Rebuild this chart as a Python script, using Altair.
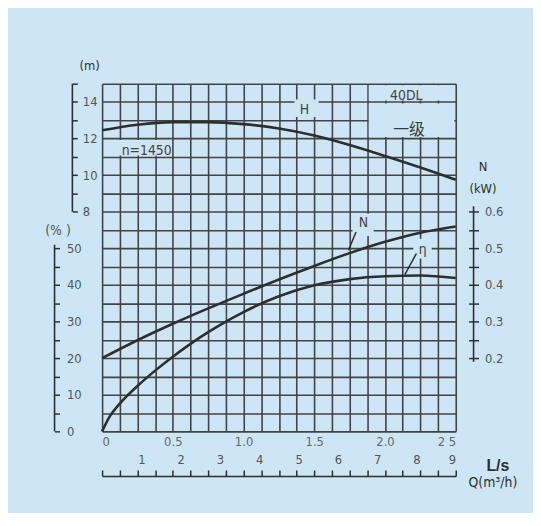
import altair as alt
import pandas as pd

# ---------------- data ----------------
# flow in L/s
Q_LS = [0, 0.25, 0.5, 0.75, 1.0, 1.25, 1.5, 1.75, 2.0, 2.25, 2.5]
HEAD_M = [12.45, 12.76, 12.9, 12.9, 12.79, 12.55, 12.17, 11.65, 11.05, 10.42, 9.75]
POWER_KW = [0.20, 0.249, 0.294, 0.336, 0.376, 0.415, 0.452, 0.487, 0.518, 0.543, 0.56]
EFF_Q = [0, 0.05, 0.125, 0.25, 0.375, 0.5, 0.625, 0.75, 0.875, 1.0, 1.25, 1.5, 1.75, 2.0, 2.25, 2.5]
EFF_PCT = [0, 3.8, 7.6, 12.4, 16.6, 20.4, 23.9, 27.1, 30.0, 32.6, 36.9, 39.9, 41.6, 42.4, 42.6, 41.9]

# axis ticks / labels
GRID_LS = [i * 0.125 for i in range(21)]
GRID_EFF = list(range(0, 100, 5))
EFF_TICKS = list(range(0, 55, 5))
HEAD_TICKS = [8, 9, 10, 11, 12, 13, 14, 15]
KW_TICKS = [0.2, 0.25, 0.3, 0.35, 0.4, 0.45, 0.5, 0.55, 0.6]
M3H_LABELS = [1, 2, 3, 4, 5, 6, 7, 8, 9]

# annotations
LABEL_TEXT = ["H", "40DL", "n=1450", "N", "η"]
LABEL_Q = [1.43, 2.15, 0.315, 1.847, 2.266]
LABEL_EFF = [87.9, 91.6, 76.6, 56.9, 49.6]
CN_TEXT = ["一级"]
CN_Q = [2.17]
CN_EFF = [82.2]

LEADER_Q1 = [1.795, 2.222]
LEADER_E1 = [54.5, 48.6]
LEADER_Q2 = [1.742, 2.14]
LEADER_E2 = [49.5, 42.8]

# areas where the grid is interrupted around the labels
MASK_Q1 = [1.36, 0.015, 1.885, 1.885, 1.77, 2.2]
MASK_Q2 = [1.53, 0.49, 2.49, 2.49, 1.92, 2.33]
MASK_E1 = [85.9, 75.4, 80.4, 90.4, 53.4, 47.2]
MASK_E2 = [90.7, 79.6, 89.6, 94.6, 59.5, 52.6]

# ---------------- styling ----------------
BG = "#cde6f6"
INK = "#2e2e2e"
GRIDC = "#434343"
LAB = "#555555"
FONT = "Liberation Sans Narrow, DejaVu Sans Condensed, Arial Narrow, sans-serif"
W, H = 357, 351

ls_scale = alt.Scale(domain=[0, 2.5], nice=False, zero=False)
m3_scale = alt.Scale(domain=[0, 9], nice=False, zero=False)
eff_scale = alt.Scale(domain=[0, 95], nice=False, zero=False)
head_scale = alt.Scale(domain=[-4, 15], nice=False, zero=False)
kw_scale = alt.Scale(domain=[0, 0.95], nice=False, zero=False)

ls_label_expr = ("datum.value == 0 ? '0' : datum.value == 2.5 ? '2 5' : "
                 "(datum.value * 2 == floor(datum.value * 2) ? format(datum.value, '.1f') : '')")

ax_ls_bottom = alt.Axis(orient="bottom", values=GRID_LS, grid=True, gridColor=GRIDC,
                        gridWidth=1.6, ticks=False, tickSize=0, domain=False,
                        labelExpr=ls_label_expr, labelFlush=True, labelOverlap=False,
                        labelPadding=4, labelFontSize=13, labelColor="#666666",
                        labelFont=FONT, title=None)
ax_eff_grid = alt.Axis(orient="left", values=GRID_EFF, grid=True, gridColor=GRIDC,
                       gridWidth=1.6, ticks=False, labels=False, domain=False, title=None)

ax_q_ticks = alt.Axis(orient="top", offset=-(H + 45), values=GRID_LS, labels=False,
                      ticks=True, tickSize=6, tickWidth=1.5, tickColor=INK,
                      domain=True, domainColor=INK, domainWidth=1.5, grid=False,
                      title="Q(m³/h)", titleX=394, titleY=7, titleAngle=0,
                      titleAlign="center", titleBaseline="middle", titleFontSize=14,
                      titleFontWeight="normal", titleColor=INK, titleFont=FONT)
ax_m3 = alt.Axis(orient="top", offset=-(H + 45), values=M3H_LABELS, format="d",
                 ticks=False, tickSize=0, domain=False, grid=False, labelPadding=10,
                 labelFontSize=13, labelColor=LAB, labelFont=FONT, labelOverlap=False,
                 title="L/s", titleX=399, titleY=-11, titleAngle=0, titleAlign="center",
                 titleBaseline="middle", titleFontSize=16, titleFontWeight="bold",
                 titleColor=INK, titleFont="Liberation Sans, sans-serif")
ax_eff = alt.Axis(orient="right", offset=-(W + 48), values=EFF_TICKS,
                  labelExpr="datum.value % 10 == 0 ? datum.label : ''",
                  tickSize=5, tickWidth=1.5, tickColor=INK, domain=False, grid=False,
                  labelPadding=7, labelFontSize=13, labelColor=LAB, labelFont=FONT,
                  labelOverlap=False, title="(% )", titleX=3, titleY=148, titleAngle=0,
                  titleAlign="center", titleBaseline="middle", titleFontSize=14,
                  titleFontWeight="normal", titleColor=LAB, titleFont=FONT)
ax_head = alt.Axis(orient="right", offset=-(W + 30), values=HEAD_TICKS,
                   labelExpr="datum.value % 2 == 0 && datum.value < 15 ? datum.label : ''",
                   tickSize=5, tickWidth=1.5, tickColor=INK, domain=False, grid=False,
                   labelPadding=5, labelFontSize=13, labelColor=LAB, labelFont=FONT,
                   labelOverlap=False, title="(m)", titleX=17, titleY=-18, titleAngle=0,
                   titleAlign="center", titleBaseline="middle", titleFontSize=13,
                   titleFontWeight="normal", titleColor=INK, titleFont=FONT)
ax_kw = alt.Axis(orient="right", offset=13, values=KW_TICKS,
                 labelExpr="round(datum.value * 100) % 10 == 0 ? format(datum.value, '.1f') : ''",
                 tickSize=10, tickWidth=1.5, tickColor=INK, domain=False, grid=False,
                 labelPadding=6, labelFontSize=13, labelColor=LAB, labelFont=FONT,
                 labelOverlap=False, title=["N", "(kW)"], titleX=14, titleY=84,
                 titleAngle=0, titleAlign="center", titleBaseline="middle",
                 titleLineHeight=22, titleFontSize=13, titleFontWeight="normal",
                 titleColor=INK, titleFont=FONT)

# ---------------- tables ----------------
df_head = pd.DataFrame({"q": Q_LS, "v": HEAD_M})
df_kw = pd.DataFrame({"q": Q_LS, "v": POWER_KW})
df_eff = pd.DataFrame({"q": EFF_Q, "v": EFF_PCT})
df_lab = pd.DataFrame({"q": LABEL_Q, "e": LABEL_EFF, "t": LABEL_TEXT})
df_cn = pd.DataFrame({"q": CN_Q, "e": CN_EFF, "t": CN_TEXT})
df_lead = pd.DataFrame({"q1": LEADER_Q1, "e1": LEADER_E1, "q2": LEADER_Q2, "e2": LEADER_E2})
df_mask = pd.DataFrame({"q1": MASK_Q1, "q2": MASK_Q2, "e1": MASK_E1, "e2": MASK_E2})
df_m3 = pd.DataFrame({"m": M3H_LABELS})
df_head_spine = pd.DataFrame({"a": [HEAD_TICKS[0]], "b": [HEAD_TICKS[-1]]})
df_eff_spine = pd.DataFrame({"a": [0], "b": [51]})
df_kw_spine = pd.DataFrame({"a": [0.19], "b": [0.615]})

# ---------------- layers ----------------
masks = alt.Chart(df_mask).mark_rect(color=BG).encode(
    x=alt.X("q1:Q", scale=ls_scale, axis=ax_q_ticks), x2="q2:Q",
    y=alt.Y("e1:Q", scale=eff_scale, axis=ax_eff), y2="e2:Q")

eff_line = alt.Chart(df_eff).mark_line(color=INK, strokeWidth=2.6, interpolate="monotone").encode(
    x=alt.X("q:Q", scale=ls_scale, axis=ax_ls_bottom),
    y=alt.Y("v:Q", scale=eff_scale, axis=ax_eff_grid))

head_line = alt.Chart(df_head).mark_line(color=INK, strokeWidth=2.6, interpolate="monotone").encode(
    x=alt.X("q:Q", scale=ls_scale, axis=None),
    y=alt.Y("v:Q", scale=head_scale, axis=ax_head))

kw_line = alt.Chart(df_kw).mark_line(color=INK, strokeWidth=2.6, interpolate="monotone").encode(
    x=alt.X("q:Q", scale=ls_scale, axis=None),
    y=alt.Y("v:Q", scale=kw_scale, axis=ax_kw))

m3_axis_layer = alt.Chart(df_m3).mark_point(opacity=0).encode(
    x=alt.X("m:Q", scale=m3_scale, axis=ax_m3))

leaders = alt.Chart(df_lead).mark_rule(color=INK, strokeWidth=1.5).encode(
    x=alt.X("q1:Q", scale=ls_scale, axis=None), x2="q2:Q",
    y=alt.Y("e1:Q", scale=eff_scale, axis=None), y2="e2:Q")

labels = alt.Chart(df_lab).mark_text(font=FONT, fontSize=14, color="#444444").encode(
    x=alt.X("q:Q", scale=ls_scale, axis=None),
    y=alt.Y("e:Q", scale=eff_scale, axis=None), text="t:N")

cn_labels = alt.Chart(df_cn).mark_text(font="Noto Sans CJK SC", fontSize=16, color="#3a3a3a").encode(
    x=alt.X("q:Q", scale=ls_scale, axis=None),
    y=alt.Y("e:Q", scale=eff_scale, axis=None), text="t:N")

head_spine = alt.Chart(df_head_spine).mark_rule(color=INK, strokeWidth=1.6).encode(
    x=alt.value(-30), y=alt.Y("a:Q", scale=head_scale, axis=None), y2="b:Q")
eff_spine = alt.Chart(df_eff_spine).mark_rule(color=INK, strokeWidth=1.6).encode(
    x=alt.value(-48), y=alt.Y("a:Q", scale=eff_scale, axis=None), y2="b:Q")
kw_spine = alt.Chart(df_kw_spine).mark_rule(color=INK, strokeWidth=1.6).encode(
    x=alt.value(375), y=alt.Y("a:Q", scale=kw_scale, axis=None), y2="b:Q")

chart = alt.layer(
    masks, eff_line, head_line, kw_line, m3_axis_layer, leaders, labels, cn_labels,
    head_spine, eff_spine, kw_spine
).resolve_scale(x="independent", y="independent").properties(
    width=W, height=H,
    autosize=alt.AutoSizeParams(type="none"),
    padding={"left": 95, "top": 74, "right": 78, "bottom": 80},
    background=BG,
).configure_view(strokeWidth=0, fill=None).configure_axis(labelFont=FONT, titleFont=FONT)

chart.save("out.html", embed_options={"renderer": "svg", "actions": False})
